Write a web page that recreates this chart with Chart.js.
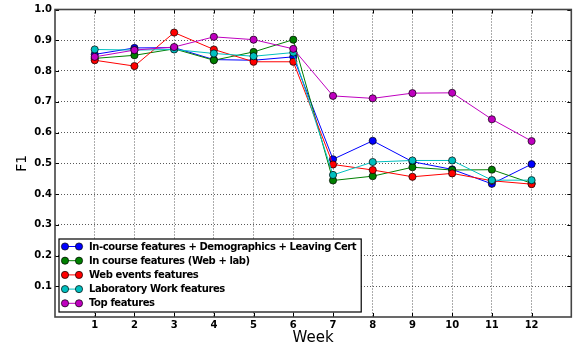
<!DOCTYPE html>
<html lang="en">
<head>
<meta charset="UTF-8">
<title>F1 by week</title>
<script src="https://cdn.jsdelivr.net/npm/chart.js@4.4.1/dist/chart.umd.min.js"></script>
<style>
    html, body {
        margin: 0;
        padding: 0;
        background: #fff;
    }
    #wrap {
        width: 576px;
        height: 347px;
        position: relative;
    }
</style>
</head>
<body>
<div id="wrap">
    <canvas id="f1Chart" width="576" height="347"></canvas>
</div>
<script>
// weeks on the x axis
var weeks = [1, 2, 3, 4, 5, 6, 7, 8, 9, 10, 11, 12];

// F1 per week for each feature set
var inCourseDemoLC = [0.854, 0.875, 0.876, 0.837, 0.835, 0.846, 0.513, 0.573, 0.505, 0.480, 0.433, 0.497];
var inCourseWebLab = [0.841, 0.851, 0.872, 0.835, 0.862, 0.902, 0.444, 0.458, 0.487, 0.478, 0.479, 0.435];
var webEvents      = [0.835, 0.816, 0.925, 0.870, 0.830, 0.830, 0.496, 0.478, 0.456, 0.467, 0.443, 0.432];
var labWork        = [0.870, 0.868, 0.870, 0.857, 0.848, 0.860, 0.462, 0.504, 0.509, 0.509, 0.445, 0.445];
var topFeatures    = [0.846, 0.868, 0.878, 0.911, 0.902, 0.872, 0.719, 0.711, 0.728, 0.729, 0.643, 0.572];

var seriesLabels = [
    'In-course features + Demographics + Leaving Cert',
    'In course features (Web + lab)',
    'Web events features',
    'Laboratory Work features',
    'Top features'
];
var seriesColors = ['#0000ff', '#008000', '#ff0000', '#00bfbf', '#bf00bf'];
var seriesValues = [inCourseDemoLC, inCourseWebLab, webEvents, labWork, topFeatures];

var xTicks = weeks;
var yTicks = [0.1, 0.2, 0.3, 0.4, 0.5, 0.6, 0.7, 0.8, 0.9, 1.0];

var tickFont = { family: 'DejaVu Sans', size: 10, weight: 'bold' };

function makeDataset(i) {
    return {
        label: seriesLabels[i],
        data: weeks.map(function (w, j) { return { x: w, y: seriesValues[i][j] }; }),
        borderColor: seriesColors[i],
        backgroundColor: seriesColors[i],
        borderWidth: 1,
        pointRadius: 3.6,
        pointBorderColor: '#000',
        pointBorderWidth: 0.7,
        pointBackgroundColor: seriesColors[i],
        tension: 0,
        // later series sit on top, like the plotting order
        order: seriesLabels.length - i
    };
}

// box around the plot, ticks pointing inwards, legend in the lower left
var frameAndLegend = {
    id: 'frameAndLegend',
    afterDraw: function (chart) {
        var ctx = chart.ctx;
        var a = chart.chartArea;
        var xs = chart.scales.x, ys = chart.scales.y;
        ctx.save();

        // inward tick marks on all four sides
        ctx.strokeStyle = '#000';
        ctx.lineWidth = 1;
        ctx.beginPath();
        xTicks.forEach(function (t) {
            var px = Math.round(xs.getPixelForValue(t)) + 0.5;
            ctx.moveTo(px, a.bottom); ctx.lineTo(px, a.bottom - 4);
            ctx.moveTo(px, a.top); ctx.lineTo(px, a.top + 4);
        });
        yTicks.forEach(function (t) {
            var py = Math.round(ys.getPixelForValue(t)) + 0.5;
            ctx.moveTo(a.left, py); ctx.lineTo(a.left + 4, py);
            ctx.moveTo(a.right, py); ctx.lineTo(a.right - 4, py);
        });
        ctx.stroke();

        // frame
        ctx.strokeStyle = '#444';
        ctx.lineWidth = 1.6;
        ctx.strokeRect(a.left, a.top, a.right - a.left, a.bottom - a.top);

        // legend
        ctx.font = 'bold 10px "DejaVu Sans"';
        ctx.letterSpacing = '-0.4px';
        var maxW = 0;
        seriesLabels.forEach(function (s) { maxW = Math.max(maxW, ctx.measureText(s).width); });
        var rowH = 14.2;
        var bx = a.left + 4;
        var bw = 30 + maxW + 5;
        var bh = rowH * seriesLabels.length + 2;
        var by = a.bottom - 5 - bh;
        ctx.fillStyle = '#fff';
        ctx.fillRect(bx, by, bw, bh);
        ctx.strokeStyle = '#000';
        ctx.lineWidth = 1.2;
        ctx.strokeRect(bx, by, bw, bh);

        ctx.textBaseline = 'middle';
        ctx.textAlign = 'left';
        seriesLabels.forEach(function (s, i) {
            var cy = by + 7.5 + i * rowH;
            var x1 = bx + 6, x2 = bx + 20;
            ctx.strokeStyle = seriesColors[i];
            ctx.lineWidth = 1;
            ctx.beginPath();
            ctx.moveTo(x1, cy); ctx.lineTo(x2, cy);
            ctx.stroke();
            [x1, x2].forEach(function (mx) {
                ctx.beginPath();
                ctx.arc(mx, cy, 3.6, 0, Math.PI * 2);
                ctx.fillStyle = seriesColors[i];
                ctx.fill();
                ctx.strokeStyle = '#000';
                ctx.lineWidth = 0.7;
                ctx.stroke();
            });
            ctx.fillStyle = '#000';
            ctx.fillText(s, bx + 30, cy + 0.5);
        });
        ctx.restore();
    }
};

var ctx = document.getElementById('f1Chart').getContext('2d');
var f1Chart = new Chart(ctx, {
    type: 'line',
    data: {
        datasets: seriesLabels.map(function (s, i) { return makeDataset(i); })
    },
    options: {
        responsive: false,
        animation: false,
        devicePixelRatio: 1,
        layout: { padding: { top: 9.5, right: 1, left: 0, bottom: 0 } },
        plugins: {
            legend: { display: false },
            tooltip: { enabled: false }
        },
        scales: {
            x: {
                type: 'linear',
                min: 0,
                max: 13,
                afterBuildTicks: function (scale) {
                    scale.ticks = xTicks.map(function (v) { return { value: v }; });
                },
                afterFit: function (scale) { scale.height = 30; },
                ticks: {
                    font: tickFont,
                    color: '#000',
                    padding: 2,
                    maxRotation: 0,
                    autoSkip: false,
                    callback: function (v) { return String(v); }
                },
                grid: {
                    color: 'rgba(0,0,0,0.65)',
                    lineWidth: 1,
                    drawTicks: false
                },
                border: { display: false, dash: [1, 2] },
                title: {
                    display: true,
                    text: 'Week',
                    font: { family: 'DejaVu Sans', size: 15, lineHeight: 1 },
                    color: '#000',
                    padding: { top: 0, bottom: 1 }
                }
            },
            y: {
                type: 'linear',
                min: 0,
                max: 1,
                afterBuildTicks: function (scale) {
                    scale.ticks = yTicks.map(function (v) { return { value: v }; });
                },
                afterFit: function (scale) { scale.width = 55; },
                ticks: {
                    font: tickFont,
                    color: '#000',
                    padding: 3,
                    autoSkip: false,
                    callback: function (v) { return Number(v).toFixed(1); }
                },
                grid: {
                    color: 'rgba(0,0,0,0.65)',
                    lineWidth: 1,
                    drawTicks: false
                },
                border: { display: false, dash: [1, 2] },
                title: {
                    display: true,
                    text: 'F1',
                    font: { family: 'DejaVu Sans', size: 14, lineHeight: 1.2 },
                    color: '#000',
                    padding: { top: 14, bottom: 0 }
                }
            }
        }
    },
    plugins: [frameAndLegend]
});
</script>
</body>
</html>
